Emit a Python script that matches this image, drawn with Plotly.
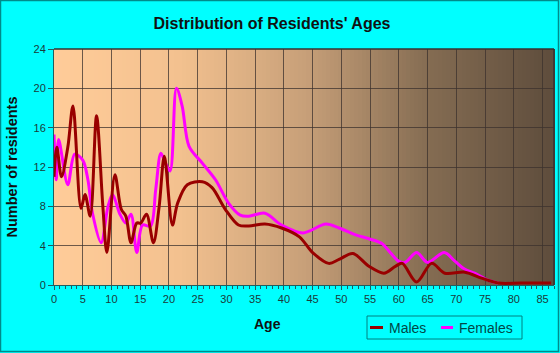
import plotly.graph_objects as go

# ---- data ----
male_age = [0, 0.5, 1.3, 2.4, 3.3, 4.7, 5.4, 6.3, 7.4, 8.5, 9.2, 10.6, 11.7, 12.5, 13.4, 14.4,
            15.1, 16.1, 17.3, 18.3, 19.2, 20.6, 21.5, 23.2, 25.8, 27.5, 29.8, 32.1, 33.9, 36.7,
            39.6, 42.7, 45, 47.8, 49.6, 52, 54.8, 57.4, 59.4, 60.6, 63.1, 65.7, 68, 71.5, 74.4,
            77.3, 81.3, 86.5]
male_val = [11, 14, 11, 14, 18.2, 7.8, 9.2, 7, 17.2, 8, 3.3, 11.2, 7.7, 7, 4.3, 6.3,
            6.3, 7.2, 4.3, 8, 13.1, 6.1, 8.3, 10.2, 10.5, 9.9, 7.7, 6.1, 6.0, 6.2,
            5.8, 4.9, 3.3, 2.2, 2.6, 3.2, 1.9, 1.2, 1.9, 2.2, 0.3, 2.2, 1.2, 1.3, 0.7,
            0.2, 0.2, 0.2]

female_age = [0, 0.4, 0.8, 2.4, 3.6, 5, 5.9, 6.7, 8.2, 9.4, 10.2, 11.4, 12.5, 13.4, 14.4, 15.4,
              16.8, 17.7, 18.6, 19.4, 20.2, 21.3, 22.3, 23.5, 25.8, 28.1, 30.4, 32.4, 33.9, 36.7,
              39.6, 43.3, 47.3, 49.6, 52.5, 54.8, 57.1, 58.5, 60, 61.1, 63.1, 65, 67.9, 69.8,
              71.5, 73.2, 75.5, 77.3]
female_val = [15.3, 10.7, 14.8, 10.2, 13.3, 12.7, 10.7, 7.3, 4.3, 8, 9.2, 7.3, 6.3, 7.2, 3.3, 6.1,
              6, 9.7, 13.4, 12.4, 11.6, 20, 18.2, 14.1, 12.4, 10.7, 8.3, 7.1, 7, 7.3,
              6.1, 5.3, 6.2, 5.8, 5.1, 4.7, 4.2, 3.3, 2.4, 2.3, 3.3, 2.3, 3.3, 2.4,
              1.6, 1.2, 0.5, 0.2]

x_ticks = list(range(0, 90, 5))
y_ticks = list(range(0, 28, 4))
series_names = ["Males", "Females"]
series_colors = ["#990000", "#FF00FF"]

W, H = 560, 353
L, R, T, B = 54, 6, 49, 68
pw, ph = W - L - R, H - T - B

def px(x):  # pixel x -> paper
    return (x - L) / pw

def py(y):  # pixel y -> paper
    return (T + ph - y) / ph

FONT = "Liberation Sans, Arial"

fig = go.Figure()
fig.add_trace(go.Scatter(x=female_age, y=female_val, name=series_names[1], mode="lines",
                         line=dict(color=series_colors[1], width=3, shape="spline", smoothing=0.9),
                         showlegend=False))
fig.add_trace(go.Scatter(x=male_age, y=male_val, name=series_names[0], mode="lines",
                         line=dict(color=series_colors[0], width=3, shape="spline", smoothing=0.9),
                         showlegend=False))

# background gradient strips
stops = [(0.0, (255, 204, 153)), (0.25, (243, 193, 143)), (0.5, (200, 160, 121)),
         (0.75, (132, 108, 82)), (1.0, (94, 77, 60))]
def col(f):
    for (a, ca), (b, cb) in zip(stops[:-1], stops[1:]):
        if a <= f <= b:
            t = (f - a) / (b - a)
            return "rgb(%d,%d,%d)" % tuple(round(ca[i] + (cb[i] - ca[i]) * t) for i in range(3))
    return "rgb(94,77,60)"

n = 125
shapes = []
for i in range(n):
    shapes.append(dict(type="rect", xref="paper", yref="paper", x0=i / n, x1=(i + 1) / n + 0.002,
                       y0=0, y1=1, fillcolor=col((i + 0.5) / n), line=dict(width=0), layer="below"))
# top / right dark border
shapes.append(dict(type="line", xref="paper", yref="paper", x0=0, x1=1, y0=1, y1=1,
                   line=dict(color="#333333", width=1.5)))
shapes.append(dict(type="line", xref="paper", yref="paper", x0=1, x1=1, y0=0, y1=1,
                   line=dict(color="#333333", width=1.5)))
# page border
shapes.append(dict(type="rect", xref="paper", yref="paper",
                   x0=px(0.5), x1=px(W - 1.5), y0=py(H - 1.5), y1=py(0.5),
                   line=dict(color="#008B8B", width=1.5)))

# manual legend (box, line samples)
shapes.append(dict(type="rect", xref="paper", yref="paper",
                   x0=px(367), x1=px(522), y0=py(339), y1=py(316),
                   line=dict(color="#008080", width=1)))
legend_line_x = [(370, 383), (441, 453)]
legend_text_x = [387, 457]
for (a, b), c in zip(legend_line_x, series_colors):
    shapes.append(dict(type="line", xref="paper", yref="paper", x0=px(a), x1=px(b),
                       y0=py(327.5), y1=py(327.5), line=dict(color=c, width=3)))

annotations = [dict(text="Age", xref="paper", yref="paper", x=px(267), y=py(324),
                    xanchor="center", yanchor="middle", showarrow=False,
                    font=dict(family=FONT, size=14, color="#111111", weight="bold"))]
for name, tx in zip(series_names, legend_text_x):
    annotations.append(dict(text=name, xref="paper", yref="paper", x=px(tx), y=py(327.5),
                            xanchor="left", yanchor="middle", showarrow=False,
                            font=dict(family=FONT, size=14, color="#004848")))

fig.update_layout(
    width=W, height=H,
    margin=dict(l=L, r=R, t=T, b=B, autoexpand=False),
    paper_bgcolor="#00FFFF",
    plot_bgcolor="rgba(0,0,0,0)",
    shapes=shapes,
    annotations=annotations,
    showlegend=False,
    title=dict(text="Distribution of Residents' Ages", x=272 / W, xanchor="center",
               y=1 - 23 / H, yanchor="middle",
               font=dict(family=FONT, size=16, color="#111111", weight="bold")),
    xaxis=dict(range=[0, 87], tickvals=x_ticks, ticks="outside", ticklen=4, tickcolor="#1F5F5F",
               showgrid=True, gridcolor="rgba(60,50,45,0.75)", gridwidth=1,
               showline=True, linecolor="#1F5F5F", linewidth=1, zeroline=False,
               minor=dict(dtick=1, tick0=0, ticks="outside", ticklen=3, tickcolor="#1F5F5F", showgrid=False),
               tickfont=dict(family=FONT, size=11, color="#1A3A3A")),
    yaxis=dict(range=[0, 24], tickvals=y_ticks, ticks="outside", ticklen=5, tickcolor="#1F5F5F",
               showgrid=True, gridcolor="rgba(60,50,45,0.75)", gridwidth=1,
               showline=True, linecolor="#1F5F5F", linewidth=1, zeroline=False,
               tickfont=dict(family=FONT, size=11, color="#1A3A3A"),
               title=dict(text="Number of residents", standoff=12,
                          font=dict(family=FONT, size=14.5, color="#111111", weight="bold"))),
)

fig.write_html("out.html")
